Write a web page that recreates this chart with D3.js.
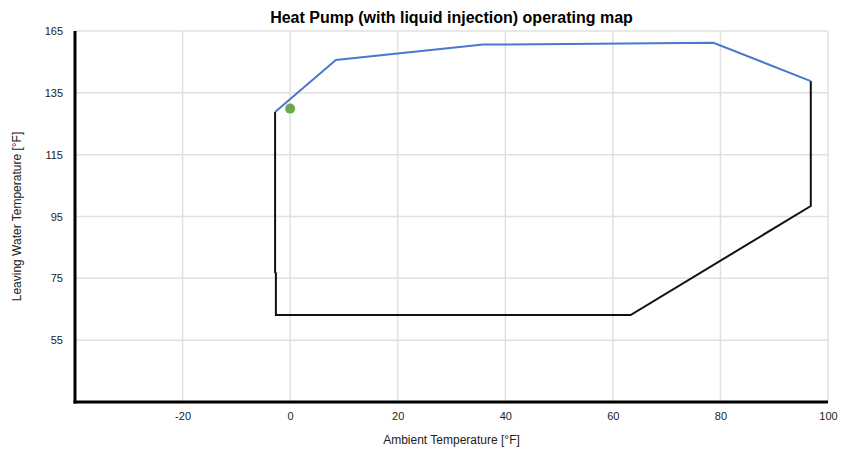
<!DOCTYPE html>
<html><head><meta charset="utf-8">
<script src="https://cdn.jsdelivr.net/npm/d3@7"></script>
<style>body{margin:0;background:#fff;}text{font-family:"Liberation Sans",Arial,sans-serif;}</style>
</head><body><svg id="c" width="846" height="449"></svg>
<script>
const title = "Heat Pump (with liquid injection) operating map";
const xTitle = "Ambient Temperature [°F]";
const yTitle = "Leaving Water Temperature [°F]";
const xTicks = [-20, 0, 20, 40, 60, 80, 100];
const yTickValues = [55, 75, 95, 115, 135, 155];
const yTickLabels = ["55", "75", "95", "115", "135", "165"];
const upperX = [-2.8, 8.5, 35.9, 78.7, 96.8];
const upperY = [128.8, 145.6, 150.6, 151.2, 138.8];
const lowerX = [-2.8, -2.8, -2.65, -2.65, 63.3, 96.8, 96.8];
const lowerY = [128.8, 77.0, 76.6, 63.1, 63.1, 98.4, 138.8];
const pointX = [0];
const pointY = [129.9];

const svg = d3.select("#c");
const m = {l:75, r:828, t:31, b:402};
const x = d3.scaleLinear().domain([-40, 100]).range([m.l, m.r]);
const y = d3.scaleLinear().domain([35, 155]).range([m.b, m.t]);

// grid
const g = svg.append("g");
g.selectAll(".vg").data(xTicks).enter().append("line")
  .attr("x1", d=>x(d)).attr("x2", d=>x(d)).attr("y1", m.t).attr("y2", m.b)
  .attr("stroke", "#e0e0e0").attr("stroke-width", 1.5);
g.selectAll(".hg").data(yTickValues).enter().append("line")
  .attr("x1", m.l).attr("x2", m.r).attr("y1", d=>y(d)).attr("y2", d=>y(d))
  .attr("stroke", "#e0e0e0").attr("stroke-width", 1.5);

// axes with d3
const xAxis = d3.axisBottom(x).tickValues(xTicks).tickSize(0).tickPadding(10).tickFormat(d=>String(d));
const xa = svg.append("g").attr("transform", `translate(0,${m.b})`).call(xAxis);
xa.select(".domain").remove();
xa.selectAll("text").attr("font-size", 11).attr("fill", "#222").attr("font-family", "Liberation Sans, Arial, sans-serif");

const yAxis = d3.axisLeft(y).tickValues(yTickValues).tickSize(0).tickPadding(12)
  .tickFormat((d,i)=>yTickLabels[i]);
const ya = svg.append("g").attr("transform", `translate(${m.l},0)`).call(yAxis);
ya.select(".domain").remove();
ya.selectAll("text").attr("font-size", 11).attr("fill", "#222").attr("font-family", "Liberation Sans, Arial, sans-serif");

// axis lines
svg.append("line").attr("x1", m.l).attr("x2", m.l).attr("y1", m.t).attr("y2", m.b+1.5)
  .attr("stroke", "#000").attr("stroke-width", 3);
svg.append("line").attr("x1", m.l-1.5).attr("x2", m.r).attr("y1", m.b).attr("y2", m.b)
  .attr("stroke", "#000").attr("stroke-width", 3);

// lines
const line = d3.line().x(d=>x(d[0])).y(d=>y(d[1]));
svg.append("path").datum(lowerX.map((v,i)=>[v, lowerY[i]]))
  .attr("d", line).attr("fill", "none").attr("stroke", "#111").attr("stroke-width", 2);
svg.append("path").datum(upperX.map((v,i)=>[v, upperY[i]]))
  .attr("d", line).attr("fill", "none").attr("stroke", "#4a78cf").attr("stroke-width", 2);

svg.selectAll(".pt").data(pointX.map((v,i)=>[v, pointY[i]])).enter().append("circle")
  .attr("cx", d=>x(d[0])).attr("cy", d=>y(d[1])).attr("r", 5).attr("fill", "#6aa84f");

// titles
svg.append("text").attr("x", (m.l+m.r)/2).attr("y", 23).attr("text-anchor", "middle")
  .attr("font-size", 16).attr("font-weight", "bold").attr("fill", "#000").text(title);
svg.append("text").attr("x", (m.l+m.r)/2).attr("y", 444).attr("text-anchor", "middle")
  .attr("font-size", 12).attr("fill", "#222").text(xTitle);
svg.append("text").attr("transform", `translate(21,${(m.t+m.b)/2}) rotate(-90)`).attr("text-anchor", "middle")
  .attr("font-size", 12).attr("fill", "#222").text(yTitle);
</script></body></html>
